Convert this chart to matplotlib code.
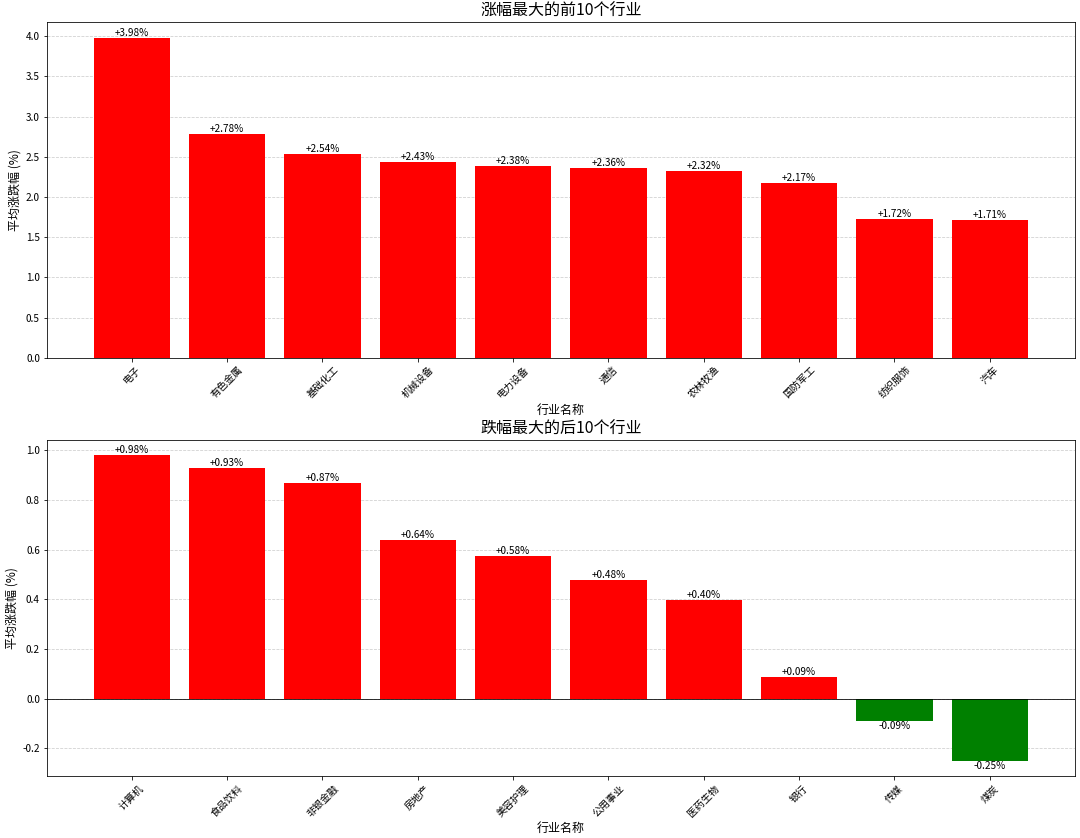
import numpy as np
import matplotlib.pyplot as plt

plt.rcParams['font.family'] = ['Noto Sans CJK SC', 'DejaVu Sans']
plt.rcParams['axes.unicode_minus'] = False

top_names = ['电子', '有色金属', '基础化工', '机械设备', '电力设备', '通信', '农林牧渔', '国防军工', '纺织服饰', '汽车']
top_vals = [3.98, 2.78, 2.54, 2.43, 2.38, 2.36, 2.32, 2.17, 1.72, 1.71]

bottom_names = ['计算机', '食品饮料', '非银金融', '房地产', '美容护理', '公用事业', '医药生物', '银行', '传媒', '煤炭']
bottom_vals = [0.98, 0.93, 0.87, 0.64, 0.576, 0.476, 0.396, 0.086, -0.09, -0.25]

fig, (ax1, ax2) = plt.subplots(2, 1, figsize=(15, 838 / 72), dpi=72)
fig.subplots_adjust(left=0.0435, right=0.995, top=0.974, bottom=0.074, hspace=0.245)


def draw(ax, names, vals, title):
    x = np.arange(len(names))
    colors = ['red' if v >= 0 else 'green' for v in vals]
    ax.bar(x, vals, color=colors, width=0.8)
    for xi, v in zip(x, vals):
        if v >= 0:
            ax.text(xi, v, f'+{v:.2f}%', ha='center', va='bottom', fontsize=10)
        else:
            ax.text(xi, v, f'{v:.2f}%', ha='center', va='top', fontsize=10)
    ax.set_xticks(x)
    ax.set_xticklabels(names, rotation=45, fontsize=10)
    ax.tick_params(axis='y', labelsize=10)
    ax.set_title(title, fontsize=16)
    ax.set_xlabel('行业名称', fontsize=12)
    ax.set_ylabel('平均涨跌幅 (%)', fontsize=12)
    ax.grid(axis='y', linestyle='--', alpha=0.6)
    ax.set_axisbelow(True)
    ax.axhline(0, color='black', linewidth=0.8)


draw(ax1, top_names, top_vals, '涨幅最大的前10个行业')
draw(ax2, bottom_names, bottom_vals, '跌幅最大的后10个行业')

plt.savefig('out.png', dpi=72)
